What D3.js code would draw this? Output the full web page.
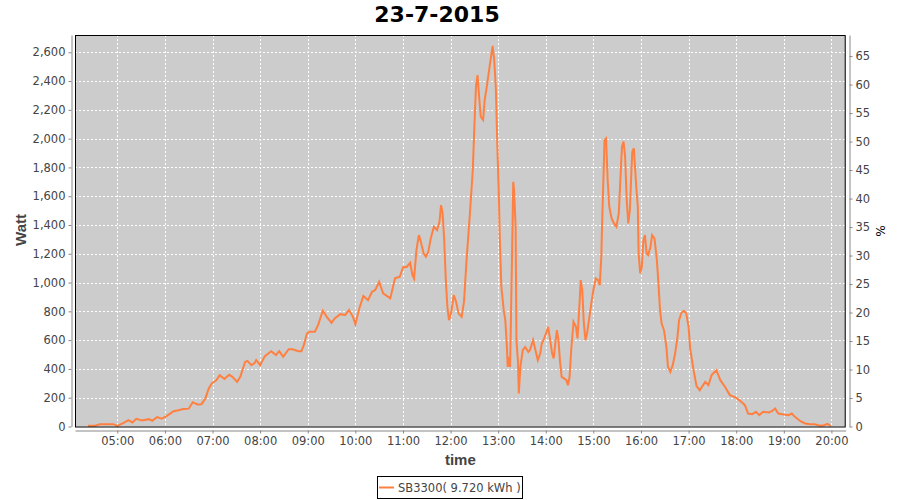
<!DOCTYPE html>
<html>
<head>
<meta charset="utf-8">
<script src="https://cdn.jsdelivr.net/npm/d3@7"></script>
<style>
  body { margin: 0; background: #fff; }
  svg text { font-family: "DejaVu Sans", sans-serif; }
</style>
</head>
<body>
<div id="chart"></div>
<script>
// chart data
var title = '23-7-2015'
var seriesName = 'SB3300( 9.720 kWh )'
var times = ['04:23','04:32','04:38','04:55','05:00','05:08','05:14','05:19','05:24','05:31','05:40','05:44','05:50','05:56',
  '06:02','06:11','06:17','06:23','06:30','06:35','06:41','06:46','06:51','06:55','06:59','07:05','07:09','07:15','07:21',
  '07:25','07:31','07:35','07:41','07:44','07:49','07:53','07:55','08:00','08:06','08:14','08:20','08:24','08:29','08:36',
  '08:41','08:48','08:52','08:55','08:59','09:02','09:09','09:13','09:19','09:24','09:30','09:34','09:41','09:47','09:52',
  '09:57','10:00','10:05','10:10','10:16','10:21','10:25','10:30','10:35','10:44','10:50','10:56','11:00','11:05','11:09',
  '11:12','11:14','11:17','11:20','11:22','11:26','11:29','11:32','11:35','11:39','11:43','11:46','11:48','11:50','11:52',
  '11:54','11:56','11:58','12:01','12:04','12:07','12:10','12:14','12:17','12:20','12:24','12:28','12:30','12:32','12:34',
  '12:36','12:38','12:41','12:43','12:46','12:48','12:51','12:53','12:55','12:57','12:59','13:01','13:02','13:04','13:07',
  '13:09','13:11','13:12','13:14','13:15','13:16','13:18','13:19','13:20','13:22','13:23','13:25','13:26','13:28','13:31',
  '13:34','13:38','13:40','13:44','13:47','13:50','13:53','13:55','13:58','14:01','14:03','14:05','14:08','14:10','14:12',
  '14:14','14:16','14:18','14:20','14:23','14:26','14:28','14:30','14:32','14:35','14:38','14:40','14:43','14:44','14:46',
  '14:48','14:50','14:52','14:55','14:58','15:00','15:03','15:06','15:08','15:10','15:11','15:13','15:14','15:16','15:18',
  '15:20','15:23','15:26','15:29','15:32','15:34','15:36','15:38','15:40','15:42','15:44','15:46','15:48','15:49','15:51',
  '15:54','15:56','15:57','15:59','16:01','16:03','16:05','16:07','16:09','16:12','16:14','16:17','16:20','16:22','16:24',
  '16:26','16:29','16:32','16:34','16:37','16:40','16:43','16:46','16:48','16:51','16:54','16:57','17:00','17:02','17:06',
  '17:10','17:14','17:21','17:25','17:29','17:35','17:40','17:46','17:52','17:59','18:05','18:11','18:15','18:20','18:25',
  '18:29','18:34','18:41','18:45','18:49','18:53','19:00','19:06','19:10','19:14','19:21','19:27','19:33','19:39','19:44',
  '19:50','19:55','19:59']
var watts = [5,5,16,16,4,25,44,28,53,42,51,40,65,55,
  72,106,113,122,124,169,153,155,195,261,299,322,357,331,359,
  345,310,345,449,456,426,440,461,426,489,523,496,523,484,537,
  537,523,523,565,646,658,658,704,804,762,720,751,781,774,809,
  762,711,820,906,878,936,948,1005,925,890,1029,1040,1105,1110,1137,
  1052,1029,1226,1330,1295,1203,1179,1214,1307,1388,1365,1422,1538,1481,1295,
  1017,831,739,797,913,866,786,762,870,1145,1450,1782,2083,2361,2442,
  2291,2152,2129,2268,2373,2454,2569,2644,2546,2361,1944,1573,1318,971,808,
  739,553,414,484,414,716,1365,1700,1643,1388,600,449,229,414,530,
  553,519,530,600,530,461,507,577,612,658,692,623,507,473,577,
  669,600,449,345,334,322,287,345,530,727,692,612,901,1017,948,
  716,600,646,762,878,948,1029,1017,982,1179,1411,1782,1990,2002,1712,
  1527,1446,1411,1388,1481,1712,1944,1979,1874,1573,1411,1504,1782,1909,1933,
  1666,1527,1203,1064,1110,1295,1330,1203,1191,1249,1330,1307,1156,994,808,
  716,669,553,414,380,426,507,623,739,790,804,786,692,540,400,
  280,252,310,287,357,391,322,275,218,202,178,148,90,86,102,
  79,102,97,106,125,90,83,79,90,67,37,21,16,16,7,
  7,18,5]
var wattTicks = [0,200,400,600,800,1000,1200,1400,1600,1800,2000,2200,2400,2600]
var pctTicks = [0,5,10,15,20,25,30,35,40,45,50,55,60,65]

var W = 900, H = 500
var plot = {left: 75, top: 35, right: 845.7, bottom: 426.5}
var orange = '#ff8040'

var parseT = d3.timeParse('%H:%M:%S')
var data = times.map(function(t, i){ return {t: parseT(t + ':00'), w: watts[i]} })

var svg = d3.select('#chart').append('svg')
  .attr('width', W).attr('height', H)

var x = d3.scaleTime()
  .domain([parseT('04:06:40'), parseT('20:18:00')])
  .range([plot.left, plot.right])
var y = d3.scaleLinear().domain([0, 2720]).range([plot.bottom, plot.top])
var yPct = d3.scaleLinear().domain([0, 68.7]).range([plot.bottom, plot.top])

var hours = d3.timeHour.range(parseT('05:00:00'), parseT('20:01:00'))

// background + grid
svg.append('rect')
  .attr('x', plot.left).attr('y', plot.top)
  .attr('width', plot.right - plot.left).attr('height', plot.bottom - plot.top)
  .attr('fill', '#cccccc')

svg.append('g').selectAll('line').data(hours).join('line')
  .attr('x1', function(d){ return Math.round(x(d)) + 0.5 })
  .attr('x2', function(d){ return Math.round(x(d)) + 0.5 })
  .attr('y1', plot.top).attr('y2', plot.bottom)
  .attr('stroke', '#fff').attr('stroke-dasharray', '2,2')

svg.append('g').selectAll('line').data(wattTicks.slice(1)).join('line')
  .attr('x1', plot.left).attr('x2', plot.right)
  .attr('y1', function(d){ return Math.round(y(d)) + 0.5 })
  .attr('y2', function(d){ return Math.round(y(d)) + 0.5 })
  .attr('stroke', '#fff').attr('stroke-dasharray', '2,2')

// the series
var line = d3.line()
  .x(function(d){ return x(d.t) })
  .y(function(d){ return y(d.w) })
svg.append('path').datum(data)
  .attr('d', line)
  .attr('fill', 'none')
  .attr('stroke', orange)
  .attr('stroke-width', 2)

// plot border
svg.append('rect')
  .attr('x', plot.left + 0.5).attr('y', plot.top + 0.5)
  .attr('width', plot.right - plot.left - 1).attr('height', plot.bottom - plot.top)
  .attr('fill', 'none').attr('stroke', '#000')

// axes
function styleAxis(g){
  g.select('.domain').attr('stroke', '#888')
  g.selectAll('.tick line').attr('stroke', '#888')
  g.selectAll('.tick text').attr('fill', '#444').style('font-size', '11.5px')
    .style('font-family', '"DejaVu Sans", sans-serif')
}

var yAxis = d3.axisLeft(y).tickValues(wattTicks).tickFormat(d3.format(','))
  .tickSizeInner(3).tickSizeOuter(0).tickPadding(3)
svg.append('g').attr('transform', 'translate(71.5,0)').call(yAxis).call(styleAxis)

var pAxis = d3.axisRight(yPct).tickValues(pctTicks)
  .tickSizeInner(3).tickSizeOuter(0).tickPadding(3)
svg.append('g').attr('transform', 'translate(849.5,0)').call(pAxis).call(styleAxis)

var xAxis = d3.axisBottom(x).tickValues(hours).tickFormat(d3.timeFormat('%H:%M'))
  .tickSizeInner(3).tickSizeOuter(0).tickPadding(3)
svg.append('g').attr('transform', 'translate(0,430.5)').call(xAxis).call(styleAxis)

// titles
svg.append('text')
  .attr('x', 437).attr('y', 22)
  .attr('text-anchor', 'middle')
  .style('font-size', '22px').style('font-weight', 'bold')
  .attr('fill', '#000')
  .text(title)

svg.append('text')
  .attr('transform', 'translate(26,230) rotate(-90)')
  .attr('text-anchor', 'middle')
  .style('font-size', '15px').style('font-weight', 'bold')
  .style('font-family', '"Liberation Sans", sans-serif')
  .attr('fill', '#444')
  .text('Watt')

svg.append('text')
  .attr('x', (plot.left + plot.right) / 2).attr('y', 465)
  .attr('text-anchor', 'middle')
  .style('font-size', '15px').style('font-weight', 'bold')
  .style('font-family', '"Liberation Sans", sans-serif')
  .attr('fill', '#444')
  .text('time')

svg.append('text')
  .attr('transform', 'translate(876,231) rotate(90)')
  .attr('text-anchor', 'middle')
  .style('font-size', '12px')
  .attr('fill', '#000')
  .text('%')

// legend
var leg = svg.append('g')
leg.append('rect')
  .attr('x', 377.5).attr('y', 476.5).attr('width', 145).attr('height', 22)
  .attr('fill', '#fff').attr('stroke', '#000')
leg.append('line')
  .attr('x1', 379).attr('x2', 394).attr('y1', 487.5).attr('y2', 487.5)
  .attr('stroke', orange).attr('stroke-width', 2)
leg.append('text')
  .attr('x', 398).attr('y', 492)
  .style('font-size', '11.5px')
  .attr('fill', '#444')
  .text(seriesName)
</script>
</body>
</html>
